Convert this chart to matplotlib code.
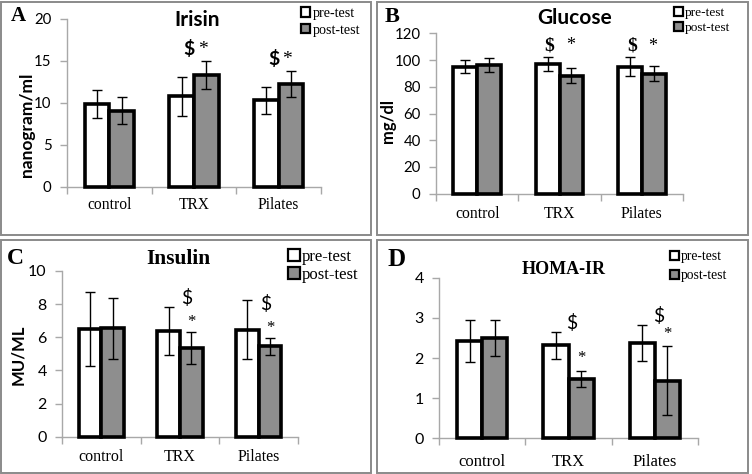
import matplotlib
matplotlib.use('Agg')
import matplotlib.pyplot as plt
from matplotlib.patches import Patch, Rectangle
import numpy as np

categories = ['control', 'TRX', 'Pilates']
series_labels = ['pre-test', 'post-test']

irisin_pre = [9.9, 10.8, 10.3]
irisin_pre_err = [1.7, 2.3, 1.6]
irisin_post = [9.1, 13.35, 12.3]
irisin_post_err = [1.6, 1.7, 1.55]

glucose_pre = [95.0, 97.0, 95.0]
glucose_pre_err = [5.0, 5.5, 7.0]
glucose_post = [96.5, 88.3, 89.7]
glucose_post_err = [5.3, 5.5, 5.7]

insulin_pre = [6.5, 6.38, 6.46]
insulin_pre_err = [2.24, 1.43, 1.77]
insulin_post = [6.54, 5.37, 5.45]
insulin_post_err = [1.86, 0.97, 0.5]

homa_pre = [2.43, 2.32, 2.37]
homa_pre_err = [0.52, 0.34, 0.45]
homa_post = [2.49, 1.48, 1.43]
homa_post_err = [0.45, 0.19, 0.86]

W, H, DPI = 752, 474, 100
fig = plt.figure(figsize=(W / DPI, H / DPI), dpi=DPI)
fig.patch.set_facecolor('white')

SERIF = 'Liberation Serif'
SANS = 'Lato'
GRAY_FILL = '#8e8e8e'
AXIS_GRAY = '#a8a8a8'
BORDER_GRAY = '#8a8a8a'


def frac_rect(l, t, r, b):
    return [l / W, 1 - b / H, (r - l) / W, (b - t) / H]


def fx(px):
    return px / W


def fy(py):
    return 1 - py / H


# panel borders
for (l, t, r, b) in [(1.5, 1.5, 371, 235), (377, 1.5, 748, 235),
                     (1.5, 240, 371, 472.5), (377, 240, 748, 472.5)]:
    fig.patches.append(Rectangle((fx(l), fy(b)), fx(r) - fx(l), fy(t) - fy(b),
                                 transform=fig.transFigure, fill=False,
                                 edgecolor=BORDER_GRAY, lw=1.4))


def panel(rect, pre, pre_err, post, post_err, ymax, ystep, tick_fs, xlab_fs,
          xpad):
    ax = fig.add_axes(frac_rect(*rect))
    x = np.arange(len(categories))
    w = 0.29
    ax.bar(x - w / 2, pre, w, color='white', edgecolor='black', lw=2.6,
           clip_on=False, zorder=3)
    ax.bar(x + w / 2, post, w, color=GRAY_FILL, edgecolor='black', lw=2.6,
           clip_on=False, zorder=3)
    ax.errorbar(x - w / 2, pre, yerr=pre_err, fmt='none', ecolor='black',
                elinewidth=1.0, capsize=3.5, capthick=1.0, zorder=4)
    ax.errorbar(x + w / 2, post, yerr=post_err, fmt='none', ecolor='black',
                elinewidth=1.0, capsize=3.5, capthick=1.0, zorder=4)
    ax.set_xlim(-0.5, 2.5)
    ax.set_ylim(0, ymax)
    ax.set_yticks(np.arange(0, ymax + ystep / 2, ystep))
    for s in ['top', 'right']:
        ax.spines[s].set_visible(False)
    for s in ['left', 'bottom']:
        ax.spines[s].set_color(AXIS_GRAY)
        ax.spines[s].set_linewidth(1.0)
    ax.set_xticks(x)
    ax.set_xticklabels(categories, fontfamily=SERIF, fontsize=xlab_fs)
    ax.set_xticks(np.arange(-0.5, 2.6, 1.0), minor=True)
    ax.tick_params(axis='x', which='major', length=0, pad=xpad)
    ax.tick_params(axis='x', which='minor', length=5, direction='out',
                   color=AXIS_GRAY, width=1.0)
    ax.tick_params(axis='y', length=5, direction='out', color=AXIS_GRAY,
                   width=1.0, pad=6, labelsize=tick_fs)
    for lab in ax.get_yticklabels():
        lab.set_fontfamily(SANS)
    ax.patch.set_alpha(0)
    return ax


def ylabel(ax, text, cx, cy, fs):
    ax.set_ylabel(text, fontfamily=SANS, fontweight='bold', fontsize=fs)
    ax.yaxis.set_label_coords(fx(cx), fy(cy), transform=fig.transFigure)
    ax.yaxis.label.set_va('center')


def legend(ax, left_px, top_px, fs, spacing, msize):
    handles = [Patch(facecolor='white', edgecolor='black', lw=1.6),
               Patch(facecolor=GRAY_FILL, edgecolor='black', lw=1.6)]
    ax.legend(handles, series_labels, loc='upper left',
              bbox_to_anchor=(fx(left_px), fy(top_px)),
              bbox_transform=fig.transFigure, frameon=False,
              prop={'family': SERIF, 'size': fs}, borderpad=0,
              borderaxespad=0, handlelength=msize, handleheight=msize,
              handletextpad=0.15, labelspacing=spacing)


# ---------- A: Irisin ----------
axA = panel((67, 19, 321, 187), irisin_pre, irisin_pre_err, irisin_post,
            irisin_post_err, 20, 5, 10.8, 11.2, 7)
ylabel(axA, 'nanogram/ml', 27, 125, 12.5)
fig.text(fx(197), fy(20), 'Irisin', fontfamily=SANS, fontweight='bold',
         fontsize=15, ha='center', va='center')
fig.text(fx(11), fy(16), 'A', fontfamily=SERIF, fontweight='bold',
         fontsize=15, ha='left', va='center')
legend(axA, 301, 7, 10.2, 0.25, 0.65)
for i in (1, 2):
    ytop = irisin_post[i] + irisin_post_err[i]
    axA.text(i - 0.06, ytop + 0.35, '$', fontfamily=SANS, fontweight='bold',
             fontsize=14, ha='center', va='bottom')
    axA.text(i + 0.1, ytop + 0.35, '*', fontfamily=SERIF, fontsize=14,
             ha='center', va='bottom')

# ---------- B: Glucose ----------
axB = panel((436, 33.3, 683, 193.7), glucose_pre, glucose_pre_err,
            glucose_post, glucose_post_err, 120, 20, 10.8, 11.3, 9)
ylabel(axB, 'mg/dl', 388, 121, 12)
fig.text(fx(575), fy(18), 'Glucose', fontfamily=SANS, fontweight='bold',
         fontsize=15, ha='center', va='center')
fig.text(fx(385), fy(17), 'B', fontfamily=SERIF, fontweight='bold',
         fontsize=16, ha='left', va='center')
legend(axB, 674, 7, 9.6, 0.2, 0.65)
for i in (1, 2):
    ytop = glucose_pre[i] + glucose_pre_err[i]
    axB.text(i - 0.12, ytop + 2, '$', fontfamily=SERIF, fontweight='bold',
             fontsize=14, ha='center', va='bottom')
    axB.text(i + 0.13, ytop + 2, '*', fontfamily=SERIF, fontsize=13,
             ha='center', va='bottom')

# ---------- C: Insulin ----------
axC = panel((62, 271, 298, 436.7), insulin_pre, insulin_pre_err, insulin_post,
            insulin_post_err, 10, 2, 11.5, 11.5, 9)
ylabel(axC, 'MU/ML', 18, 355, 12)
fig.text(fx(178), fy(259), 'Insulin', fontfamily=SERIF, fontweight='bold',
         fontsize=15.5, ha='center', va='center')
fig.text(fx(7), fy(259), 'C', fontfamily=SERIF, fontweight='bold',
         fontsize=17, ha='left', va='center')
legend(axC, 288, 249, 12, 0.1, 0.7)
for i in (1, 2):
    ytop = insulin_post[i] + insulin_post_err[i]
    axC.text(i + 0.09, ytop + 1.5, '$', fontfamily=SANS, fontsize=14,
             ha='center', va='bottom')
    axC.text(i + 0.15, ytop + 0.1, '*', fontfamily=SERIF, fontsize=12,
             ha='center', va='bottom')

# ---------- D: HOMA-IR ----------
axD = panel((439, 277.7, 698, 438.3), homa_pre, homa_pre_err, homa_post,
            homa_post_err, 4, 1, 11.5, 12, 11)
fig.text(fx(564), fy(269), 'HOMA-IR', fontfamily=SERIF, fontweight='bold',
         fontsize=13, ha='center', va='center')
fig.text(fx(388), fy(259), 'D', fontfamily=SERIF, fontweight='bold',
         fontsize=18, ha='left', va='center')
legend(axD, 670, 250, 9.8, 0.45, 0.65)
for i in (1, 2):
    axD.text(i + 0.04, homa_pre[i] + homa_pre_err[i] + 0.0, '$',
             fontfamily=SANS, fontsize=14, ha='center', va='bottom')
    axD.text(i + 0.15, homa_post[i] + homa_post_err[i] + 0.12, '*',
             fontfamily=SERIF, fontsize=12, ha='center', va='bottom')

fig.savefig('out.png', dpi=DPI, facecolor='white')
